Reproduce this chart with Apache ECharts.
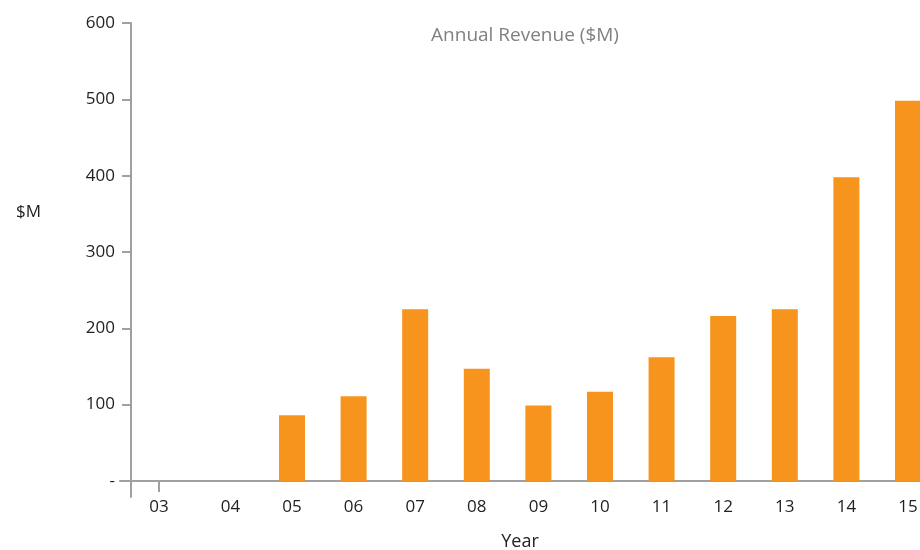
<!DOCTYPE html>
<html>
<head>
<meta charset="utf-8">
<title>Annual Revenue</title>
<script src="https://cdn.jsdelivr.net/npm/echarts@6/dist/echarts.min.js"></script>
<style>
  html, body { margin: 0; padding: 0; background: #fff; }
  #chart { width: 920px; height: 550px; }
</style>
</head>
<body>
<div id="chart"></div>
<script>
// data
const years = ['03', '04', '05', '06', '07', '08', '09', '10', '11', '12', '13', '14', '15'];
const revenue = [null, null, 86, 111, 225, 147, 99, 117, 162, 216, 225, 398, 498];
const yTicks = [0, 100, 200, 300, 400, 500, 600];

const FONT = '"Open Sans", sans-serif';
const chart = echarts.init(document.getElementById('chart'));

// the first year label sits a little left of its slot
const xLabelPos = years.map((y, i) => (i === 0 ? -0.16 : i));

chart.setOption({
  animation: false,
  textStyle: { fontFamily: FONT },
  title: [
    {
      text: 'Annual Revenue ($M)',
      left: 520,
      textAlign: 'center',
      top: 21,
      textStyle: { fontSize: 19, fontWeight: 'normal', color: '#808080', fontFamily: FONT }
    },
    {
      text: '$M',
      left: 11,
      top: 199,
      textStyle: { fontSize: 17, fontWeight: 'normal', color: '#222', fontFamily: FONT }
    }
  ],
  grid: { left: 120, right: 0, top: 23, bottom: 53, outerBoundsMode: 'none' },
  xAxis: {
    type: 'value',
    min: -0.792,
    max: 12.195,
    name: 'Year',
    nameLocation: 'middle',
    nameGap: 36,
    nameTextStyle: { fontSize: 18, color: '#222' },
    axisLine: { onZero: true, lineStyle: { color: '#a0a0a0', width: 2 } },
    axisTick: { show: true, customValues: [-0.16], length: 11, lineStyle: { color: '#a0a0a0', width: 2 } },
    axisLabel: {
      customValues: xLabelPos,
      margin: 2,
      fontSize: 17,
      color: '#222',
      formatter: v => years[Math.abs(Math.round(v))]
    },
    splitLine: { show: false }
  },
  yAxis: {
    type: 'value',
    min: -21,
    max: 600,
    offset: -11,
    axisLine: { show: true, onZero: false, lineStyle: { color: '#a0a0a0', width: 2 } },
    axisTick: { show: true, customValues: yTicks, length: 9, lineStyle: { color: '#a0a0a0', width: 2 } },
    axisLabel: {
      customValues: yTicks,
      margin: 16,
      fontSize: 17,
      color: '#222',
      formatter: v => (v === 0 ? '-' : String(v))
    },
    splitLine: { show: false }
  },
  series: [
    {
      type: 'bar',
      barWidth: 26,
      itemStyle: { color: '#F7941D' },
      data: revenue.map((v, i) => [i, v])
    }
  ]
});
</script>
</body>
</html>
